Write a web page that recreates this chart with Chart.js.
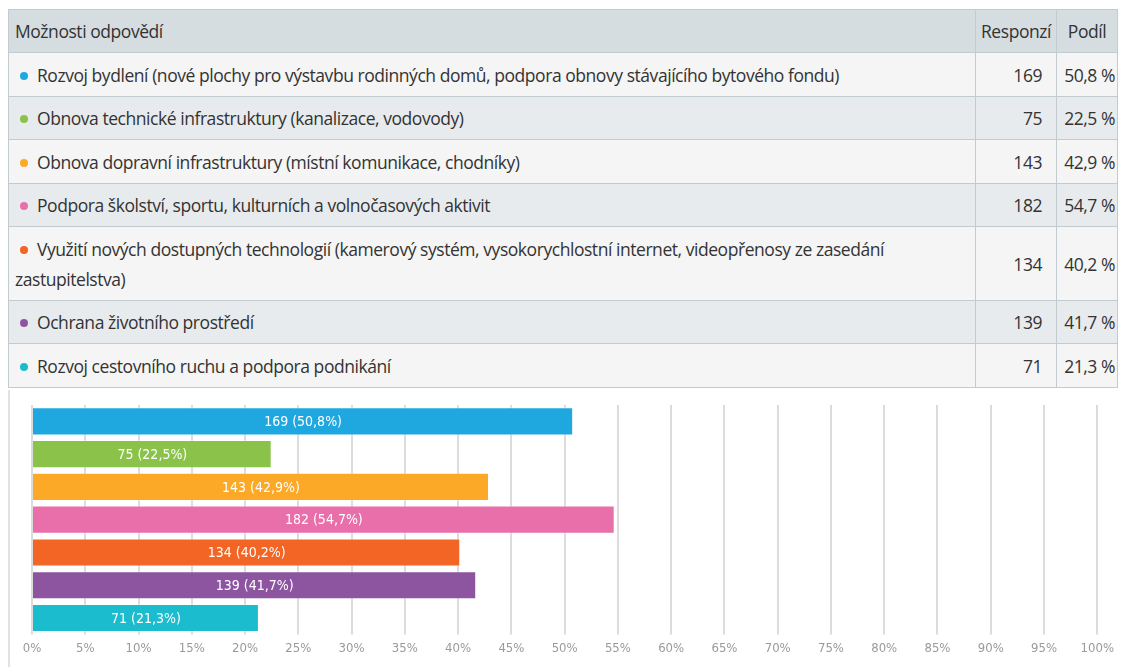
<!DOCTYPE html>
<html><head><meta charset="utf-8">
<script src="https://cdn.jsdelivr.net/npm/chart.js@4/dist/chart.umd.min.js"></script>
<style>
html,body{margin:0;padding:0;background:#fff;width:1127px;height:667px;overflow:hidden;font-family:"Open Sans","Noto Sans",sans-serif;}
#tbl{position:absolute;left:8px;top:9px;width:1110px;border-collapse:collapse;font-size:17.5px;color:#333;letter-spacing:-0.45px;}
#tbl td,#tbl th{border:1.5px solid #c2ccd0;padding:0 6px;font-weight:normal;}
#tbl th{background:#d6dde1;text-align:left;height:42px;}
#tbl th.n{text-align:center;padding:0 3px;}
#tbl tr:nth-child(odd) td{background:#f5f5f5;}
#tbl tr:nth-child(even) td{background:#e8ebed;}
#tbl td{line-height:30px;padding-top:6.5px;padding-bottom:6px;}
#tbl td.n{text-align:right;padding-right:14px;}
#tbl td.p{text-align:right;padding-right:2px;}
.dot{display:inline-block;width:8px;height:8px;border-radius:50%;margin:0 9px 2px 5px;vertical-align:middle;}
#wrap{position:absolute;left:8px;top:390px;width:1110px;height:277px;border-left:2px solid #dde3e5;}
</style></head>
<body>
<table id="tbl"><thead><tr><th>Možnosti odpovědí</th><th class="n" style="width:74px">Responzí</th><th class="n" style="width:54px">Podíl</th></tr></thead><tbody id="tb"></tbody></table>
<div id="wrap"><canvas id="c" width="1110" height="277"></canvas></div>
<script>
const categories = [
 "Rozvoj bydlení (nové plochy pro výstavbu rodinných domů, podpora obnovy stávajícího bytového fondu)",
 "Obnova technické infrastruktury (kanalizace, vodovody)",
 "Obnova dopravní infrastruktury (místní komunikace, chodníky)",
 "Podpora školství, sportu, kulturních a volnočasových aktivit",
 "Využití nových dostupných technologií (kamerový systém, vysokorychlostní internet, videopřenosy ze zasedání zastupitelstva)",
 "Ochrana životního prostředí",
 "Rozvoj cestovního ruchu a podpora podnikání"
];
const responses = [169, 75, 143, 182, 134, 139, 71];
const shares = [50.8, 22.5, 42.9, 54.7, 40.2, 41.7, 21.3];
const colors = ["#1fa8e0","#8bc34a","#fba926","#e96fab","#f26524","#8d55a0","#1bbccd"];
const xTicks = ["0%","5%","10%","15%","20%","25%","30%","35%","40%","45%","50%","55%","60%","65%","70%","75%","80%","85%","90%","95%","100%"];

const fmt = v => v.toFixed(1).replace('.', ',');
const tb = document.getElementById('tb');
categories.forEach((c,i)=>{
  const tr=document.createElement('tr');
  tr.innerHTML = `<td><span class="dot" style="background:${colors[i]}"></span>${c}</td><td class="n">${responses[i]}</td><td class="p">${fmt(shares[i])} %</td>`;
  tb.appendChild(tr);
});

const labelPlugin = {
  id:'barLabels',
  afterDatasetsDraw(chart){
    const ctx=chart.ctx; const meta=chart.getDatasetMeta(0);
    ctx.save();
    ctx.fillStyle='#fff'; ctx.font='14px "DejaVu Sans Condensed","DejaVu Sans",sans-serif';
    ctx.textAlign='center'; ctx.textBaseline='middle';
    meta.data.forEach((bar,i)=>{
      const x=(bar.base+bar.x)/2;
      ctx.fillText(responses[i]+' ('+fmt(shares[i])+'%)', x, bar.y+1);
    });
    ctx.restore();
  }
};

new Chart(document.getElementById('c'),{
  type:'bar',
  data:{labels:categories,datasets:[{data:shares,backgroundColor:colors,borderColor:'rgba(255,255,255,0.35)',borderWidth:1,barPercentage:0.86,categoryPercentage:1}]},
  options:{
    indexAxis:'y',responsive:false,animation:false,
    layout:{padding:{left:0,right:12,top:15,bottom:5}},
    plugins:{legend:{display:false},tooltip:{enabled:false}},
    scales:{
      x:{min:0,max:100,
        ticks:{stepSize:5,color:'#9a9a9a',font:{size:13,family:'"DejaVu Sans Condensed","DejaVu Sans",sans-serif'},padding:6,
          callback:(v,i)=>xTicks[i]},
        grid:{color:'#dcdcdc',lineWidth:2,tickLength:0},border:{display:false}},
      y:{ticks:{display:false},grid:{display:false},border:{display:false},afterFit(s){s.width=22;}}
    }
  },
  plugins:[labelPlugin]
});
</script>
</body></html>
